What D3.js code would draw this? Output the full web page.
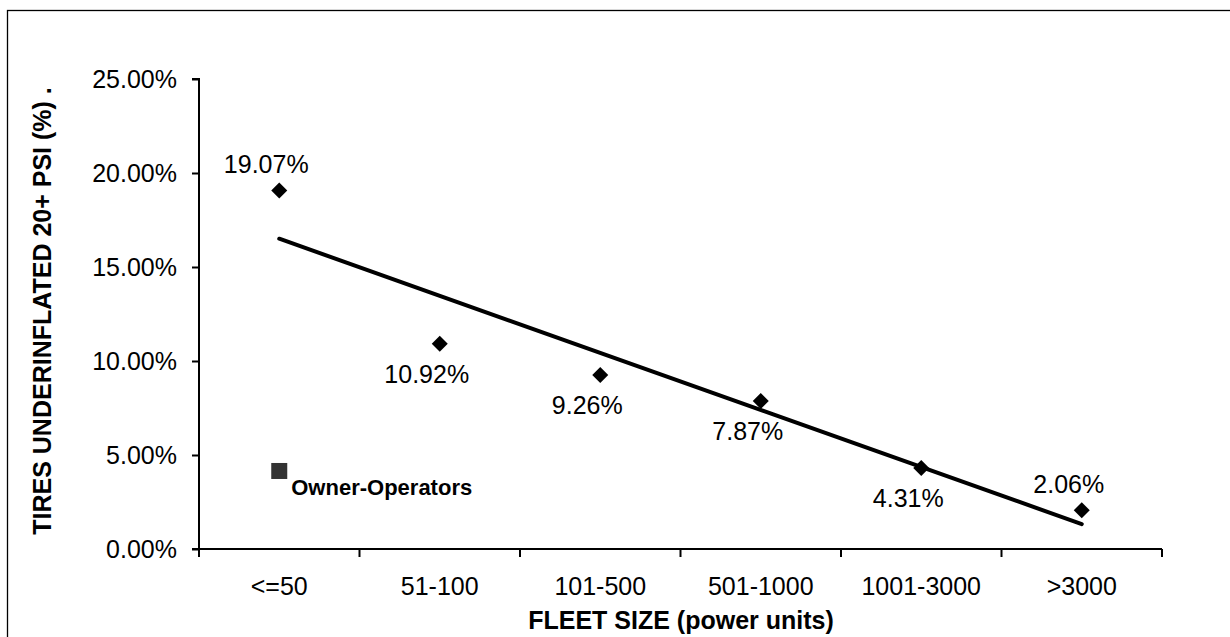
<!DOCTYPE html>
<html>
<head>
<meta charset="utf-8">
<script src="https://cdn.jsdelivr.net/npm/d3@7"></script>
<style>
  html, body { margin: 0; padding: 0; background: #fff; }
  svg { display: block; font-family: "Liberation Sans", Arial, sans-serif; }
</style>
</head>
<body>
<svg id="chart" width="1230" height="637"></svg>
<script>
// Fleet size groups and share of tires underinflated by 20+ PSI (%)
const categories = ["<=50", "51-100", "101-500", "501-1000", "1001-3000", ">3000"];
const values = [19.07, 10.92, 9.26, 7.87, 4.31, 2.06];
const labelAbove = [true, false, false, false, false, true];
const yTicks = [0, 5, 10, 15, 20, 25];
const ownerOperators = { category: "<=50", value: 4.15, label: "Owner-Operators" };

const svg = d3.select("#chart");
const margin = { left: 199, right: 1162, top: 79, bottom: 549 };
const FONT = 25;

// frame around the whole figure
svg.append("rect")
  .attr("x", 7.5).attr("y", 10.5)
  .attr("width", 1240).attr("height", 640)
  .attr("fill", "none").attr("stroke", "#000").attr("stroke-width", 1.3);

const x = d3.scaleBand().domain(categories).range([margin.left, margin.right]);
const y = d3.scaleLinear().domain([0, 25]).range([margin.bottom, margin.top]);

// y axis
const yAxis = svg.append("g")
  .attr("transform", `translate(${margin.left},0)`)
  .call(d3.axisLeft(y).tickValues(yTicks).tickSize(7).tickPadding(15)
    .tickFormat(d => d.toFixed(2) + "%"));
yAxis.select(".domain").attr("stroke-width", 2).attr("d", `M-7,${y(25)}H0V${y(0)}`);
yAxis.selectAll(".tick line").attr("stroke-width", 2);
yAxis.selectAll(".tick text").attr("font-size", FONT).attr("fill", "#000")
  .attr("font-family", "Liberation Sans, Arial, sans-serif");

// x axis with ticks at band edges
const xAxis = svg.append("g")
  .attr("transform", `translate(0,${margin.bottom})`);
xAxis.append("line")
  .attr("x1", margin.left - 7).attr("x2", margin.right)
  .attr("stroke", "#000").attr("stroke-width", 2);
const edges = categories.map(c => x(c)).concat([x(categories[categories.length - 1]) + x.bandwidth()]);
xAxis.selectAll("line.edge").data(edges).join("line")
  .attr("class", "edge")
  .attr("x1", d => d).attr("x2", d => d)
  .attr("y1", 0).attr("y2", 8)
  .attr("stroke", "#000").attr("stroke-width", 2);
xAxis.selectAll("text.cat").data(categories).join("text")
  .attr("class", "cat")
  .attr("x", d => x(d) + x.bandwidth() / 2)
  .attr("y", 46)
  .attr("text-anchor", "middle")
  .attr("font-size", FONT)
  .text(d => d);

// axis titles
svg.append("text")
  .attr("x", 681).attr("y", 629)
  .attr("text-anchor", "middle")
  .attr("font-size", FONT).attr("font-weight", "bold")
  .text("FLEET SIZE (power units)");
svg.append("text")
  .attr("transform", "translate(51,311) rotate(-90)")
  .attr("text-anchor", "middle")
  .attr("font-size", FONT).attr("font-weight", "bold")
  .text("TIRES UNDERINFLATED 20+ PSI (%) .");

const cx = c => x(c) + x.bandwidth() / 2;

// least-squares trend line over category positions 1..n
const n = values.length;
const xs = values.map((_, i) => i + 1);
const mx = d3.mean(xs), my = d3.mean(values);
const slope = d3.sum(xs, (xi, i) => (xi - mx) * (values[i] - my)) / d3.sum(xs, xi => (xi - mx) ** 2);
const intercept = my - slope * mx;
const trend = [[1, categories[0]], [n, categories[n - 1]]]
  .map(([xi, c]) => [cx(c), y(intercept + slope * xi)]);
svg.append("path")
  .attr("d", d3.line()(trend))
  .attr("stroke", "#000").attr("stroke-width", 4)
  .attr("stroke-linecap", "round").attr("fill", "none");

// data points (diamonds)
const diamond = d3.symbol().type(d3.symbolSquare).size(128);
svg.selectAll("path.pt").data(values).join("path")
  .attr("class", "pt")
  .attr("d", diamond)
  .attr("transform", (d, i) => `translate(${cx(categories[i])},${y(d)}) rotate(45)`)
  .attr("fill", "#000");

// value labels
svg.selectAll("text.val").data(values).join("text")
  .attr("class", "val")
  .attr("x", (d, i) => cx(categories[i]) - 13)
  .attr("y", (d, i) => y(d) + (labelAbove[i] ? -17 : 39))
  .attr("text-anchor", "middle")
  .attr("font-size", FONT)
  .text(d => d.toFixed(2) + "%");

// owner-operators marker
svg.append("rect")
  .attr("x", cx(ownerOperators.category) - 8)
  .attr("y", y(ownerOperators.value) - 8)
  .attr("width", 16).attr("height", 16)
  .attr("fill", "#333");
svg.append("text")
  .attr("x", cx(ownerOperators.category) + 12)
  .attr("y", y(ownerOperators.value) + 24)
  .attr("font-size", 22).attr("font-weight", "bold")
  .text(ownerOperators.label);
</script>
</body>
</html>
